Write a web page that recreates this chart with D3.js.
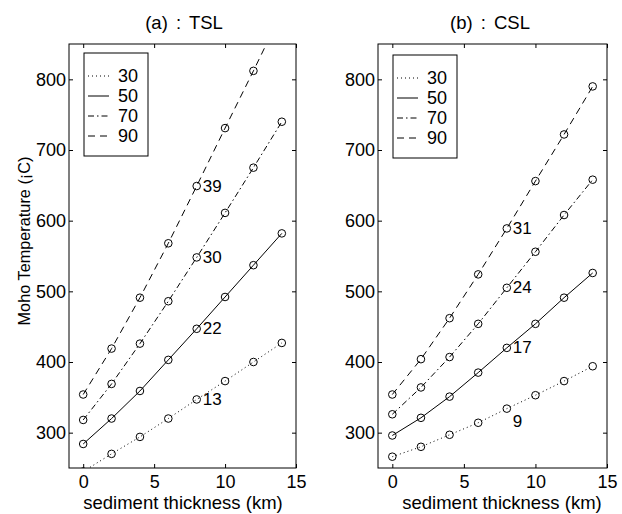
<!DOCTYPE html>
<html>
<head>
<meta charset="utf-8">
<script src="https://cdn.jsdelivr.net/npm/d3@7"></script>
<style>
  body { margin: 0; background: #fff; }
  svg { font-family: 'Liberation Sans', Arial, sans-serif; }
</style>
</head>
<body>
<div id="chart"></div>
<script>
// sediment thickness (km)
const thickness = [0, 2, 4, 6, 8, 10, 12, 14];
const seriesNames = ['30', '50', '70', '90'];
const xTicks = [0, 5, 10, 15];
const yTicks = [300, 400, 500, 600, 700, 800];

// (a) : TSL
const tsl30 = [245, 270, 294, 320, 347, 373, 400, 427];
const tsl50 = [284, 320, 359, 403, 447, 492, 537, 582];
const tsl70 = [318, 369, 426, 486, 548, 611, 675, 740];
const tsl90 = [354, 419, 491, 568, 649, 731, 812, 895];
const tslLabels = ['13', '22', '30', '39'];

// (b) : CSL
const csl30 = [266, 280, 297, 314, 334, 353, 373, 394];
const csl50 = [296, 321, 351, 385, 420, 454, 491, 526];
const csl70 = [326, 364, 407, 454, 505, 556, 608, 658];
const csl90 = [354, 404, 462, 524, 589, 656, 722, 790];
const cslLabels = ['9', '17', '24', '31'];

const width = 622, height = 514;
const dashes = ['1,3', null, '6,3,1.5,3', '7,5'];

const svg = d3.select('#chart').append('svg')
  .attr('width', width)
  .attr('height', height);

const drawPanel = (opts) => {
  const { left, right, top, bottom, title, titleX, series, labels, labelDy, legend, clipId, xLabelX } = opts;

  const x = d3.scaleLinear().domain([-1, 15]).range([left, right]);
  const y = d3.scaleLinear().domain([250, 850]).range([bottom, top]);

  svg.append('clipPath').attr('id', clipId)
    .append('rect')
    .attr('x', left).attr('y', top)
    .attr('width', right - left).attr('height', bottom - top);

  const g = svg.append('g');

  // axes with inward ticks on all four sides
  const tickLen = 4;
  g.append('g').attr('transform', `translate(0,${bottom})`)
    .call(d3.axisBottom(x).tickValues(xTicks).tickSize(-tickLen).tickPadding(7).tickFormat(d3.format('d')))
    .call(a => { a.select('.domain').remove(); a.selectAll('text').attr('font-size', 18).attr('dy', '0.71em'); });
  g.append('g').attr('transform', `translate(0,${top})`)
    .call(d3.axisTop(x).tickValues(xTicks).tickSize(-tickLen).tickFormat(''))
    .call(a => a.select('.domain').remove());
  g.append('g').attr('transform', `translate(${left},0)`)
    .call(d3.axisLeft(y).tickValues(yTicks).tickSize(-tickLen).tickPadding(3))
    .call(a => { a.select('.domain').remove(); a.selectAll('text').attr('font-size', 18); });
  g.append('g').attr('transform', `translate(${right},0)`)
    .call(d3.axisRight(y).tickValues(yTicks).tickSize(-tickLen).tickFormat(''))
    .call(a => a.select('.domain').remove());
  g.selectAll('.tick line').attr('stroke', '#000');
  g.selectAll('.tick text').attr('fill', '#000').attr('font-family', null);

  g.append('rect')
    .attr('x', left).attr('y', top)
    .attr('width', right - left).attr('height', bottom - top)
    .attr('fill', 'none').attr('stroke', '#000').attr('stroke-width', 1);

  const line = d3.line()
    .x((d, i) => x(thickness[i]))
    .y(d => y(d));

  const plot = g.append('g').attr('clip-path', `url(#${clipId})`);

  series.forEach((vals, s) => {
    plot.append('path')
      .attr('d', line(vals))
      .attr('fill', 'none')
      .attr('stroke', '#000')
      .attr('stroke-width', 1)
      .attr('stroke-dasharray', dashes[s]);

    plot.selectAll(null).data(vals).enter()
      .append('circle')
      .attr('cx', (d, i) => x(thickness[i]))
      .attr('cy', d => y(d))
      .attr('r', 3.8)
      .attr('fill', 'none')
      .attr('stroke', '#000')
      .attr('stroke-width', 1);

    // label next to the point at 8 km
    const k = thickness.indexOf(8);
    g.append('text')
      .attr('x', x(8) + 6)
      .attr('y', y(vals[k]) + labelDy[s])
      .attr('dominant-baseline', 'central')
      .attr('font-size', 17)
      .text(labels[s]);
  });

  // legend
  const lg = g.append('g');
  lg.append('rect')
    .attr('x', legend.x).attr('y', legend.y)
    .attr('width', 64).attr('height', 103)
    .attr('fill', '#fff').attr('stroke', '#000').attr('stroke-width', 1);
  seriesNames.forEach((name, s) => {
    const ly = legend.y + 23 + s * 20;
    lg.append('line')
      .attr('x1', legend.x + 4).attr('x2', legend.x + 25)
      .attr('y1', ly).attr('y2', ly)
      .attr('stroke', '#000').attr('stroke-width', 1)
      .attr('stroke-dasharray', dashes[s]);
    lg.append('text')
      .attr('x', legend.x + 34).attr('y', ly)
      .attr('dominant-baseline', 'central')
      .attr('font-size', 18)
      .text(name);
  });

  svg.append('text')
    .attr('x', titleX).attr('y', 22)
    .attr('text-anchor', 'middle').attr('dominant-baseline', 'central')
    .attr('font-size', 18.5)
    .attr('word-spacing', 3)
    .text(title);

  svg.append('text')
    .attr('x', xLabelX).attr('y', 509)
    .attr('text-anchor', 'middle')
    .attr('font-size', 18.5)
    .text('sediment thickness (km)');
};

drawPanel({
  left: 69, right: 296, top: 44, bottom: 468,
  title: '(a) : TSL', titleX: 184,
  series: [tsl30, tsl50, tsl70, tsl90],
  labels: tslLabels,
  labelDy: [0, 0, 0, 0],
  legend: { x: 84, y: 53 },
  clipId: 'clipA',
  xLabelX: 183
});

drawPanel({
  left: 378, right: 607, top: 44, bottom: 468,
  title: '(b) : CSL', titleX: 490,
  series: [csl30, csl50, csl70, csl90],
  labels: cslLabels,
  labelDy: [13, 0, 0, 0],
  legend: { x: 393, y: 55 },
  clipId: 'clipB',
  xLabelX: 502
});

svg.append('text')
  .attr('transform', 'translate(24,241) rotate(-90)')
  .attr('text-anchor', 'middle').attr('dominant-baseline', 'central')
  .attr('font-size', 16.3)
  .text('Moho Temperature (¡C)');
</script>
</body>
</html>
